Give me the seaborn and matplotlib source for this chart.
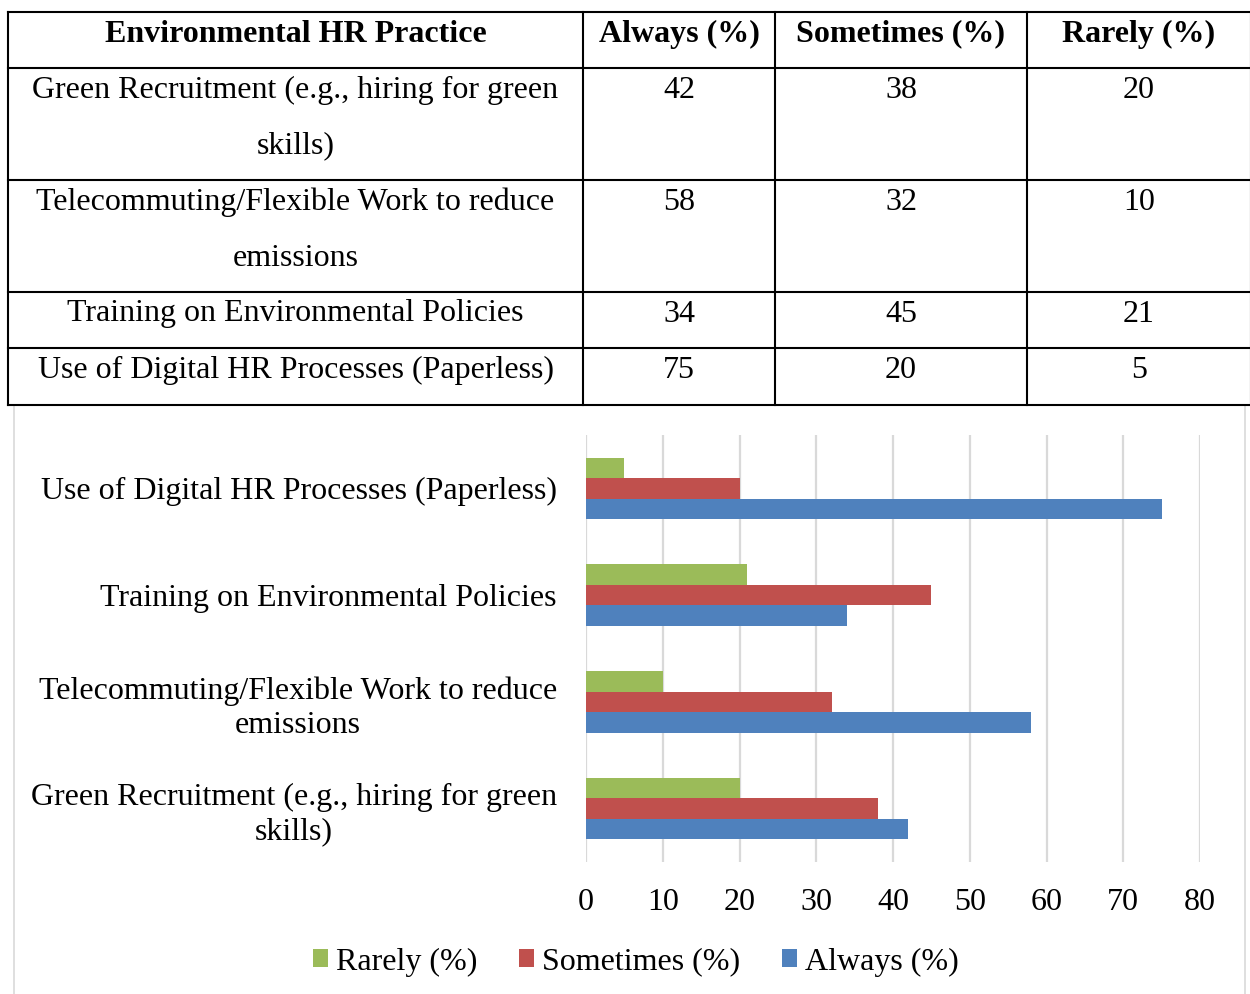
import matplotlib
matplotlib.use('Agg')
import matplotlib.pyplot as plt
import pandas as pd
import seaborn as sns
from matplotlib.patches import Rectangle


# data
table_labels = [
    'Green Recruitment (e.g., hiring for green\nskills)',
    'Telecommuting/Flexible Work to reduce\nemissions',
    'Training on Environmental Policies',
    'Use of Digital HR Processes (Paperless)',
]
chart_labels = [
    'Green Recruitment (e.g., hiring for green\nskills)',
    'Telecommuting/Flexible Work to reduce\nemissions',
    'Training on Environmental Policies',
    'Use of Digital HR Processes (Paperless)',
]
always = [42, 58, 34, 75]
sometimes = [38, 32, 45, 20]
rarely = [20, 10, 21, 5]

header = ['Environmental HR Practice', 'Always (%)', 'Sometimes (%)', 'Rarely (%)']
responses = ['Rarely (%)', 'Sometimes (%)', 'Always (%)']
colors = ['#9BBB59', '#C0504D', '#4F81BD']
x_ticks = [0, 10, 20, 30, 40, 50, 60, 70, 80]

W, H = 1250, 994
FONT_SIZE = 23

sns.set_style('white')
plt.rcParams['font.family'] = ['Liberation Serif', 'DejaVu Serif']
plt.rcParams['text.color'] = 'black'
plt.rcParams['xtick.color'] = 'black'
plt.rcParams['ytick.color'] = 'black'

fig = plt.figure(figsize=(W / 100, H / 100), dpi=100)

# full-figure axes in pixel coordinates for the table and chart frame
ax_t = fig.add_axes([0, 0, 1, 1])
ax_t.set_xlim(0, W)
ax_t.set_ylim(H, 0)
ax_t.axis('off')

col_x = [8, 583, 775, 1027, 1251]
row_y = [12, 68, 180, 292, 348, 405]

for x in col_x:
    ax_t.plot([x, x], [row_y[0], row_y[-1]], color='black', lw=1.5, solid_capstyle='projecting')
for y in row_y:
    ax_t.plot([col_x[0], col_x[-1]], [y, y], color='black', lw=1.5, solid_capstyle='projecting')

col_centers = [(a + b) / 2 for a, b in zip(col_x[:-1], col_x[1:])]
for cx, text in zip(col_centers, header):
    ax_t.text(cx, row_y[0] + 22, text, ha='center', va='center',
              fontsize=FONT_SIZE, fontweight='bold')

rows = list(zip(table_labels, always, sometimes, rarely))
for i, row in enumerate(rows):
    top = row_y[i + 1]
    for cx, val in zip(col_centers, row):
        # double-spaced lines, as in the word-processor table
        for k, line in enumerate(str(val).split('\n')):
            ax_t.text(cx, top + 22 + 56 * k, line, ha='center', va='center',
                      fontsize=FONT_SIZE)

# light frame round the chart
ax_t.add_patch(Rectangle((14, 405), 1231, 620, fill=False, edgecolor='#D9D9D9', lw=1.2))

# bar chart
ax = fig.add_axes([586 / W, 1 - 862 / H, 614 / W, 427 / H])

df = pd.DataFrame({
    'practice': chart_labels * 3,
    'response': ['Always (%)'] * 4 + ['Sometimes (%)'] * 4 + ['Rarely (%)'] * 4,
    'value': always + sometimes + rarely,
})

sns.barplot(data=df, x='value', y='practice', hue='response',
            order=chart_labels[::-1], hue_order=responses,
            palette=colors, width=0.575, orient='h', ax=ax,
            saturation=1, linewidth=0, legend=True)

ax.set_xlim(0, 80)
ax.set_xticks(x_ticks)
ax.set_xlabel('')
ax.set_ylabel('')
ax.xaxis.grid(True, color='#D9D9D9', lw=1.6)
ax.yaxis.grid(False)
ax.set_axisbelow(True)
for side in ax.spines.values():
    side.set_visible(False)
ax.tick_params(axis='x', length=0, pad=19, labelsize=FONT_SIZE)
ax.tick_params(axis='y', length=0, pad=21, labelsize=FONT_SIZE)
for lbl in ax.get_yticklabels():
    lbl.set_multialignment('center')
    lbl.set_linespacing(1.25)

handles, labels = ax.get_legend_handles_labels()
ax.get_legend().remove()
fig.legend(handles, labels, loc='center', bbox_to_anchor=(636 / W, 1 - 962 / H),
           ncol=3, frameon=False, fontsize=FONT_SIZE, handlelength=0.48,
           handleheight=0.48, handletextpad=0.25, columnspacing=1.3)

fig.savefig('out.png', dpi=100)
